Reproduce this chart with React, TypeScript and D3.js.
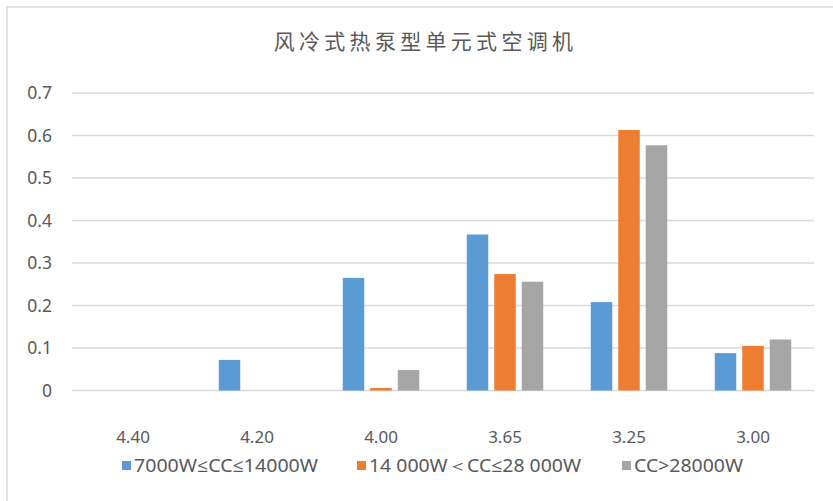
import React from "react";
import * as d3 from "d3";

// Energy efficiency levels (x categories)
const categories = ["4.40", "4.20", "4.00", "3.65", "3.25", "3.00"];

// Series names and values per category
const seriesNames = ["7000W≤CC≤14000W", "14 000W＜CC≤28 000W", "CC>28000W"];
const smallUnits = [0, 0.072, 0.265, 0.367, 0.208, 0.088];
const mediumUnits = [0, 0, 0.006, 0.274, 0.613, 0.105];
const largeUnits = [0, 0, 0.048, 0.256, 0.577, 0.12];

const yTicks = [0, 0.1, 0.2, 0.3, 0.4, 0.5, 0.6, 0.7];
const title = "风冷式热泵型单元式空调机";

const colors = ["#5B9BD5", "#ED7D31", "#A5A5A5"];

const W = 833;
const H = 501;

export default function App() {
  const series = [smallUnits, mediumUnits, largeUnits];

  const x = d3.scaleBand<string>().domain(categories).range([71, 815]);
  const y = d3.scaleLinear().domain([0, 0.7]).range([390.5, 93]);

  const barW = 21.5;
  const step = 27.5;
  const textColor = "#595959";
  const font = "'Noto Sans', 'Open Sans', sans-serif";

  // legend entries laid out left to right with equal gaps
  const legendItems = [
    { swatch: 122, text: 134, width: 184 },
    { swatch: 357, text: 369, width: 212 },
    { swatch: 622, text: 634, width: 109 },
  ];

  return (
    <svg
      width={W}
      height={H}
      style={{ position: "absolute", left: 0, top: 0, background: "#fff" }}
    >
      {/* chart frame */}
      <rect x={7} y={7} width={W + 20} height={H + 20} fill="#fff" stroke="#D9D9D9" strokeWidth={1.5} />

      {/* title */}
      <text
        x={425.5}
        y={49}
        textAnchor="middle"
        fontFamily="'Noto Sans CJK SC', sans-serif"
        fontSize={21}
        letterSpacing={4.3}
        fill={textColor}
      >
        {title}
      </text>

      {/* gridlines and y labels */}
      {yTicks.map((t) => (
        <g key={t}>
          <line x1={72} x2={814} y1={y(t)} y2={y(t)} stroke="#D9D9D9" strokeWidth={1.3} />
          <text
            x={52}
            y={y(t)}
            dy="0.35em"
            textAnchor="end"
            fontFamily={font}
            fontSize={17.5}
            fill={textColor}
          >
            {t === 0 ? "0" : d3.format(".1f")(t)}
          </text>
        </g>
      ))}

      {/* bars */}
      {categories.map((c, i) => {
        const cx = (x(c) ?? 0) + x.bandwidth() / 2;
        return (
          <g key={c}>
            {series.map((s, k) =>
              s[i] > 0 ? (
                <rect
                  key={k}
                  x={cx + (k - 1) * step - barW / 2}
                  y={y(s[i])}
                  width={barW}
                  height={y(0) - y(s[i])}
                  fill={colors[k]}
                />
              ) : null
            )}
          </g>
        );
      })}

      {/* x labels */}
      {categories.map((c) => (
        <text
          key={c}
          x={(x(c) ?? 0) + x.bandwidth() / 2}
          y={443}
          textAnchor="middle"
          fontFamily={font}
          fontSize={17}
          fill={textColor}
        >
          {c}
        </text>
      ))}

      {/* legend */}
      {seriesNames.map((name, k) => (
        <g key={name}>
          <rect x={legendItems[k].swatch} y={461} width={9} height={9} fill={colors[k]} />
          <text
            x={legendItems[k].text}
            y={472}
            fontFamily={font}
            fontSize={18}
            fill={textColor}
            textLength={legendItems[k].width}
            lengthAdjust="spacingAndGlyphs"
          >
            {name}
          </text>
        </g>
      ))}
    </svg>
  );
}
